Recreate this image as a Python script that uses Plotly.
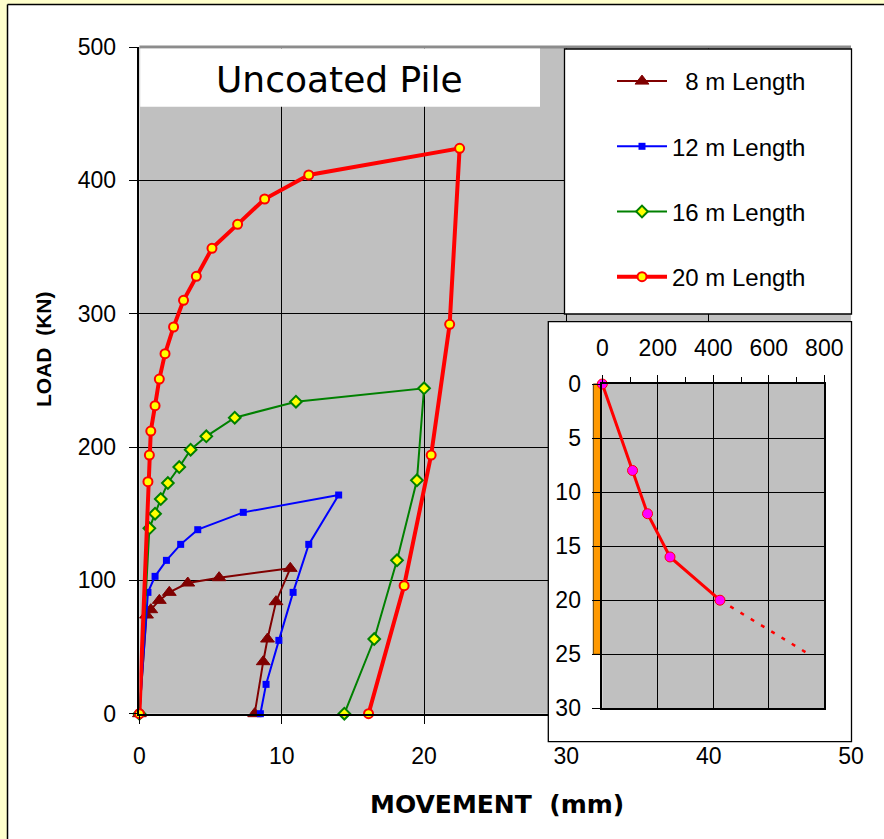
import plotly.graph_objects as go

# ---------------- data ----------------
mov_8m = [0, 0.5, 0.8, 1.4, 2.1, 3.4, 5.6, 10.6, 9.6, 9.0, 8.7, 8.1]
load_8m = [0, 74, 78, 85, 91, 98, 102, 109, 84, 56, 39, 0]

mov_12m = [0, 0.6, 1.1, 1.9, 2.9, 4.1, 7.3, 14.0, 11.9, 10.8, 9.8, 8.9, 8.5]
load_12m = [0, 91, 103, 115, 127, 138, 151, 164, 127, 91, 55, 22, 0]

mov_16m = [0, 0.7, 1.1, 1.5, 2.0, 2.8, 3.6, 4.7, 6.7, 11.0, 20.0, 19.5, 18.1, 16.5, 14.4]
load_16m = [0, 139, 150, 161, 173, 185, 198, 208, 222, 234, 244, 175, 115, 56, 0]

mov_20m = [0, 0.6, 0.7, 0.8, 1.1, 1.4, 1.8, 2.4, 3.1, 4.0, 5.1, 6.9, 8.8, 11.9,
           22.5, 21.8, 20.5, 18.6, 16.1]
load_20m = [0, 174, 194, 212, 231, 251, 270, 290, 310, 328, 349, 367, 386, 404,
            424, 292, 194, 96, 0]

series_names = ["  8 m Length", "12 m Length", "16 m Length", "20 m Length"]

inset_load = [0, 109, 163, 244, 424]
inset_depth = [0, 8, 12, 16, 20]
extrap_load = [424, 745]
extrap_depth = [20, 25]
pile_length = 25

main_xticks = [0, 10, 20, 30, 40, 50]
main_yticks = [0, 100, 200, 300, 400, 500]
inset_xticks = [0, 200, 400, 600, 800]
inset_yticks = [0, 5, 10, 15, 20, 25, 30]

# ---------------- geometry (pixels of the 884x839 reference) ----------------
W, H = 884, 839
def px(x):
    return x / W
def py(y):
    return 1 - y / H

main_l, main_r, main_t, main_b = 139.4, 851.0, 47.0, 713.7
box_l, box_r, box_t, box_b = 548.3, 851.5, 321.7, 741.7
ins_l, ins_r, ins_t, ins_b = 602.3, 824.3, 384.0, 708.3

ins_xmax, ins_ymax = 800, 30
ux = ins_xmax / (ins_r - ins_l)
uy = ins_ymax / (ins_b - ins_t)
x2_range = [-(ins_l - box_l) * ux, ins_xmax + (box_r - ins_r) * ux]
y2_top = -(ins_t - box_t) * uy
y2_bot = ins_ymax + (box_b - ins_b) * uy
bar_x0 = -(ins_l - 593.3) * ux
bar_x1 = -(ins_l - 601.7) * ux

TICKFONT = dict(family="Liberation Sans, Arial, sans-serif", size=23, color="black")

fig = go.Figure()

fig.add_trace(go.Scatter(
    x=mov_8m, y=load_8m, name=series_names[0], legendgroup="g1",
    mode="lines+markers", cliponaxis=False,
    line=dict(color="#800000", width=2),
    marker=dict(symbol="triangle-up", size=12, color="#800000",
                line=dict(color="#800000", width=1)),
    xaxis="x", yaxis="y"))
fig.add_trace(go.Scatter(
    x=mov_12m, y=load_12m, name=series_names[1], legendgroup="g2",
    mode="lines+markers", cliponaxis=False,
    line=dict(color="#0000FF", width=2),
    marker=dict(symbol="square", size=7, color="#0000FF"),
    xaxis="x", yaxis="y"))
fig.add_trace(go.Scatter(
    x=mov_16m, y=load_16m, name=series_names[2], legendgroup="g3",
    mode="lines+markers", cliponaxis=False,
    line=dict(color="#008000", width=2),
    marker=dict(symbol="diamond", size=9, color="#FFFF00",
                line=dict(color="#008000", width=2)),
    xaxis="x", yaxis="y"))
fig.add_trace(go.Scatter(
    x=mov_20m, y=load_20m, name=series_names[3], legendgroup="g4",
    mode="lines+markers", cliponaxis=False,
    line=dict(color="#FF0000", width=4),
    marker=dict(symbol="circle", size=9, color="#FFFF00",
                line=dict(color="#FF0000", width=2)),
    xaxis="x", yaxis="y"))

# white panel behind the inset (subplot 2)
fig.add_trace(go.Scatter(
    x=[x2_range[0], x2_range[1], x2_range[1], x2_range[0], x2_range[0]],
    y=[y2_top, y2_top, y2_bot, y2_bot, y2_top],
    mode="lines", fill="toself", fillcolor="white",
    line=dict(width=0, color="white"), hoverinfo="skip", showlegend=False,
    xaxis="x2", yaxis="y2"))
# pile drawn beside the inset depth axis
fig.add_trace(go.Scatter(
    x=[bar_x0, bar_x1, bar_x1, bar_x0, bar_x0],
    y=[0, 0, pile_length, pile_length, 0],
    mode="lines", fill="toself", fillcolor="#FF9900",
    line=dict(width=1, color="#5a3a00"), hoverinfo="skip", showlegend=False,
    xaxis="x2", yaxis="y2"))

# inset traces (subplot 3)
fig.add_trace(go.Scatter(
    x=extrap_load, y=extrap_depth, mode="lines", showlegend=False,
    line=dict(color="#FF0000", width=2.5, dash="4px,8px"),
    xaxis="x3", yaxis="y3"))
fig.add_trace(go.Scatter(
    x=inset_load, y=inset_depth, mode="lines+markers", showlegend=False,
    cliponaxis=False,
    line=dict(color="#FF0000", width=3),
    marker=dict(symbol="circle", size=10, color="#FF00FF",
                line=dict(color="#FF0000", width=1)),
    xaxis="x3", yaxis="y3"))

shapes = [
    dict(type="rect", xref="paper", yref="paper", x0=0, x1=px(7), y0=0, y1=1,
         fillcolor="#FFFFCC", line=dict(width=0), layer="below"),
    dict(type="rect", xref="paper", yref="paper", x0=0, x1=1, y0=py(4), y1=1,
         fillcolor="#FFFFCC", line=dict(width=0), layer="below"),
    dict(type="line", xref="paper", yref="paper", x0=px(7.5), x1=px(7.5),
         y0=0, y1=py(4.5), line=dict(color="black", width=1.5), layer="below"),
    dict(type="line", xref="paper", yref="paper", x0=px(7.5), x1=1,
         y0=py(4.5), y1=py(4.5), line=dict(color="black", width=1.5), layer="below"),
    dict(type="line", xref="paper", yref="paper", x0=px(main_l), x1=px(main_r),
         y0=py(main_t), y1=py(main_t), line=dict(color="#8c8c8c", width=3), layer="above"),
    dict(type="rect", xref="paper", yref="paper", x0=px(main_l + 0.8), x1=px(540),
         y0=py(106.7), y1=py(48.6), fillcolor="white", line=dict(width=0), layer="above"),
    dict(type="rect", xref="paper", yref="paper", x0=px(564.5), x1=px(851.5),
         y0=py(314), y1=py(49), fillcolor="white",
         line=dict(color="black", width=1.3), layer="above"),
    dict(type="rect", xref="paper", yref="paper", x0=px(box_l), x1=px(box_r),
         y0=py(box_b), y1=py(box_t), fillcolor="rgba(0,0,0,0)",
         line=dict(color="black", width=1.3), layer="above"),
]

annotations = [
    dict(text="Uncoated Pile", xref="paper", yref="paper", x=px(339.5), y=py(79),
         xanchor="center", yanchor="middle", showarrow=False,
         font=dict(family="DejaVu Sans, Liberation Sans, sans-serif", size=36, color="black")),
    dict(text="MOVEMENT  (mm)", xref="paper", yref="paper", x=px(496.5), y=py(804),
         xanchor="center", yanchor="middle", showarrow=False,
         font=dict(family="DejaVu Sans, Liberation Sans, sans-serif", size=25,
                   color="black", weight=700)),
    dict(text="LOAD  (KN)", xref="paper", yref="paper", x=px(43), y=py(350),
         xanchor="center", yanchor="middle", showarrow=False, textangle=-90,
         font=dict(family="Liberation Sans, Arial, sans-serif",
                   size=21, color="black", weight=700)),
]

axis_common = dict(showline=True, linecolor="black", linewidth=1.5,
                   ticks="outside", ticklen=9, tickcolor="black", tickwidth=1,
                   showgrid=True, gridcolor="black", gridwidth=1,
                   zeroline=False, tickfont=TICKFONT, fixedrange=True,
                   automargin=False)

fig.update_layout(
    autosize=True,
    margin=dict(l=0, r=0, t=0, b=0, pad=0),
    paper_bgcolor="white", plot_bgcolor="#C0C0C0",
    showlegend=True,
    legend=dict(x=px(612), y=py(59), xanchor="left", yanchor="top",
                bgcolor="rgba(0,0,0,0)", borderwidth=0,
                font=dict(family="Liberation Sans, Arial, sans-serif", size=24, color="black"),
                tracegroupgap=31, traceorder="grouped", itemwidth=50),
    xaxis=dict(domain=[px(main_l), px(main_r)], range=[0, 50], anchor="y",
               tickvals=main_xticks, ticklabelstandoff=12, **axis_common),
    yaxis=dict(domain=[py(main_b), py(main_t)], range=[0, 500], anchor="x",
               tickvals=main_yticks, ticklabelstandoff=8, **axis_common),
    xaxis2=dict(domain=[px(box_l), px(box_r)], range=x2_range, anchor="y2",
                visible=False, fixedrange=True),
    yaxis2=dict(domain=[py(box_b), py(box_t)], range=[y2_bot, y2_top], anchor="x2",
                visible=False, fixedrange=True),
    xaxis3=dict(domain=[px(ins_l), px(ins_r)], range=[0, ins_xmax], anchor="y3",
                side="top", mirror=True, tickvals=inset_xticks, ticklabelstandoff=10,
                minor=dict(ticks="outside", ticklen=5, dtick=100, tickcolor="black",
                           showgrid=False),
                **{**axis_common, "ticklen": 7}),
    yaxis3=dict(domain=[py(ins_b), py(ins_t)], range=[ins_ymax, 0], anchor="x3",
                mirror=True, tickvals=inset_yticks, ticklabelstandoff=6,
                **axis_common),
    shapes=shapes,
    annotations=annotations,
)

fig.write_html(
    "out.html",
    config={"displayModeBar": False, "responsive": True},
    default_width="100vw",
    default_height="100vh",
    post_script="document.body.style.margin='0';document.body.style.padding='0';"
                "document.documentElement.style.overflow='hidden';",
)
